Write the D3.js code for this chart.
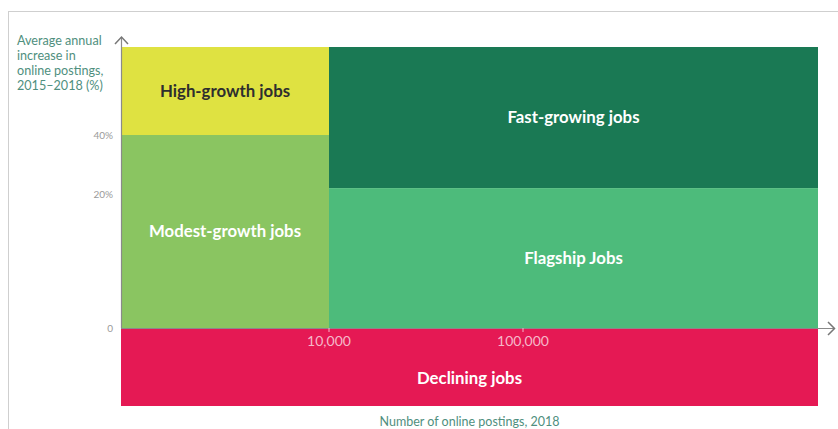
<!DOCTYPE html>
<html>
<head>
<meta charset="utf-8">
<script src="https://cdn.jsdelivr.net/npm/d3@7"></script>
<style>
  html, body { margin: 0; padding: 0; background: #fff; }
  svg { display: block; font-family: Lato, "Open Sans", sans-serif; }
</style>
</head>
<body>
<svg id="chart" width="838" height="429"></svg>
<script>
// Job segments: ranges in postings (x, log) and growth (y, %)
const segments   = ["High-growth jobs", "Fast-growing jobs", "Modest-growth jobs", "Flagship Jobs", "Declining jobs"];
const postingsLo = [850, 10000, 850, 10000, 850];
const postingsHi = [10000, 3300000, 10000, 3300000, 3300000];
const growthLo   = [40, 22, 0, 0, -20];
const growthHi   = [60, 60, 40, 22, 0];
const fills      = ["#dfe241", "#1a7954", "#8ac561", "#4dbb7b", "#e51954"];
const labelInk   = ["#2e2e2e", "#ffffff", "#ffffff", "#ffffff", "#ffffff"];

const yTicks = [0, 20, 40];
const yTickLabels = ["0", "20%", "40%"];
const xTicks = [10000, 100000];
const xTickLabels = ["10,000", "100,000"];

const svg = d3.select("#chart");

// frame lines
svg.append("line").attr("x1", 8).attr("x2", 838).attr("y1", 11.5).attr("y2", 11.5)
  .attr("stroke", "#cfcfcf").attr("stroke-width", 1);
svg.append("line").attr("x1", 8.5).attr("x2", 8.5).attr("y1", 11).attr("y2", 429)
  .attr("stroke", "#cfcfcf").attr("stroke-width", 1);

// Scales: the growth axis is stretched piecewise, postings on a log scale
const x = d3.scaleLog()
  .domain([850, 10000, 100000, 3300000])
  .range([121, 329, 523, 818]);
const y = d3.scaleLinear()
  .domain([-20, 0, 20, 40, 60])
  .range([406, 328, 194, 135, 47]);

const cells = segments.map((name, i) => ({
  name, x0: postingsLo[i], x1: postingsHi[i], y0: growthLo[i], y1: growthHi[i],
  fill: fills[i], ink: labelInk[i]
}));

svg.append("g").selectAll("rect").data(cells).join("rect")
  .attr("x", d => x(d.x0))
  .attr("y", d => y(d.y1))
  .attr("width", d => x(d.x1) - x(d.x0))
  .attr("height", d => y(d.y0) - y(d.y1))
  .attr("fill", d => d.fill);

// segment labels
svg.append("g").selectAll("text").data(cells).join("text")
  .attr("x", d => (x(d.x0) + x(d.x1)) / 2)
  .attr("y", d => d.y1 === 0 ? (y(0) + 22 + y(d.y0)) / 2 : (y(d.y0) + y(d.y1)) / 2)
  .attr("dy", "0.35em")
  .attr("text-anchor", "middle")
  .attr("font-size", 16.8)
  .attr("font-weight", 700)
  .attr("fill", d => d.ink)
  .text(d => d.name);

// y axis line with chevron
svg.append("line").attr("x1", 121.5).attr("x2", 121.5).attr("y1", y(0)).attr("y2", 37)
  .attr("stroke", "#8a8a8a").attr("stroke-width", 1.2);
svg.append("path").attr("d", "M115,44 L121.5,37 L128,44")
  .attr("fill", "none").attr("stroke", "#777").attr("stroke-width", 1.5);

// x axis line with chevron
svg.append("line").attr("x1", 121).attr("x2", 834).attr("y1", y(0) + 0.5).attr("y2", y(0) + 0.5)
  .attr("stroke", "#8a8a8a").attr("stroke-width", 1.2);
svg.append("path").attr("d", "M828,322 L834.5,328.5 L828,335")
  .attr("fill", "none").attr("stroke", "#777").attr("stroke-width", 1.5);

// y tick labels
svg.append("g").selectAll("text").data(yTicks).join("text")
  .attr("x", 113)
  .attr("y", d => y(d))
  .attr("dy", "0.35em")
  .attr("text-anchor", "end")
  .attr("font-size", 10)
  .attr("fill", "#9a9a9a")
  .text((d, i) => yTickLabels[i]);

// x ticks and labels on the declining band
svg.append("g").selectAll("line").data(xTicks).join("line")
  .attr("x1", d => x(d)).attr("x2", d => x(d))
  .attr("y1", y(0)).attr("y2", y(0) + 4)
  .attr("stroke", "#f4b7c8").attr("stroke-width", 1);
svg.append("g").selectAll("text").data(xTicks).join("text")
  .attr("x", d => x(d))
  .attr("y", y(0) + 13)
  .attr("dy", "0.35em")
  .attr("text-anchor", "middle")
  .attr("font-size", 14)
  .attr("fill", "#f6b8c9")
  .text((d, i) => xTickLabels[i]);

// axis titles
const yTitle = ["Average annual", "increase in", "online postings,", "2015\u20132018 (%)"];
svg.append("text")
  .attr("x", 17).attr("y", 45)
  .attr("font-size", 12.6)
  .attr("fill", "#4f8f7e")
  .selectAll("tspan").data(yTitle).join("tspan")
  .attr("x", 17)
  .attr("dy", (d, i) => i === 0 ? 0 : 15)
  .text(d => d);

svg.append("text")
  .attr("x", (x(850) + x(3300000)) / 2)
  .attr("y", 426)
  .attr("text-anchor", "middle")
  .attr("font-size", 12.5)
  .attr("fill", "#4f8f7e")
  .text("Number of online postings, 2018");
</script>
</body>
</html>
